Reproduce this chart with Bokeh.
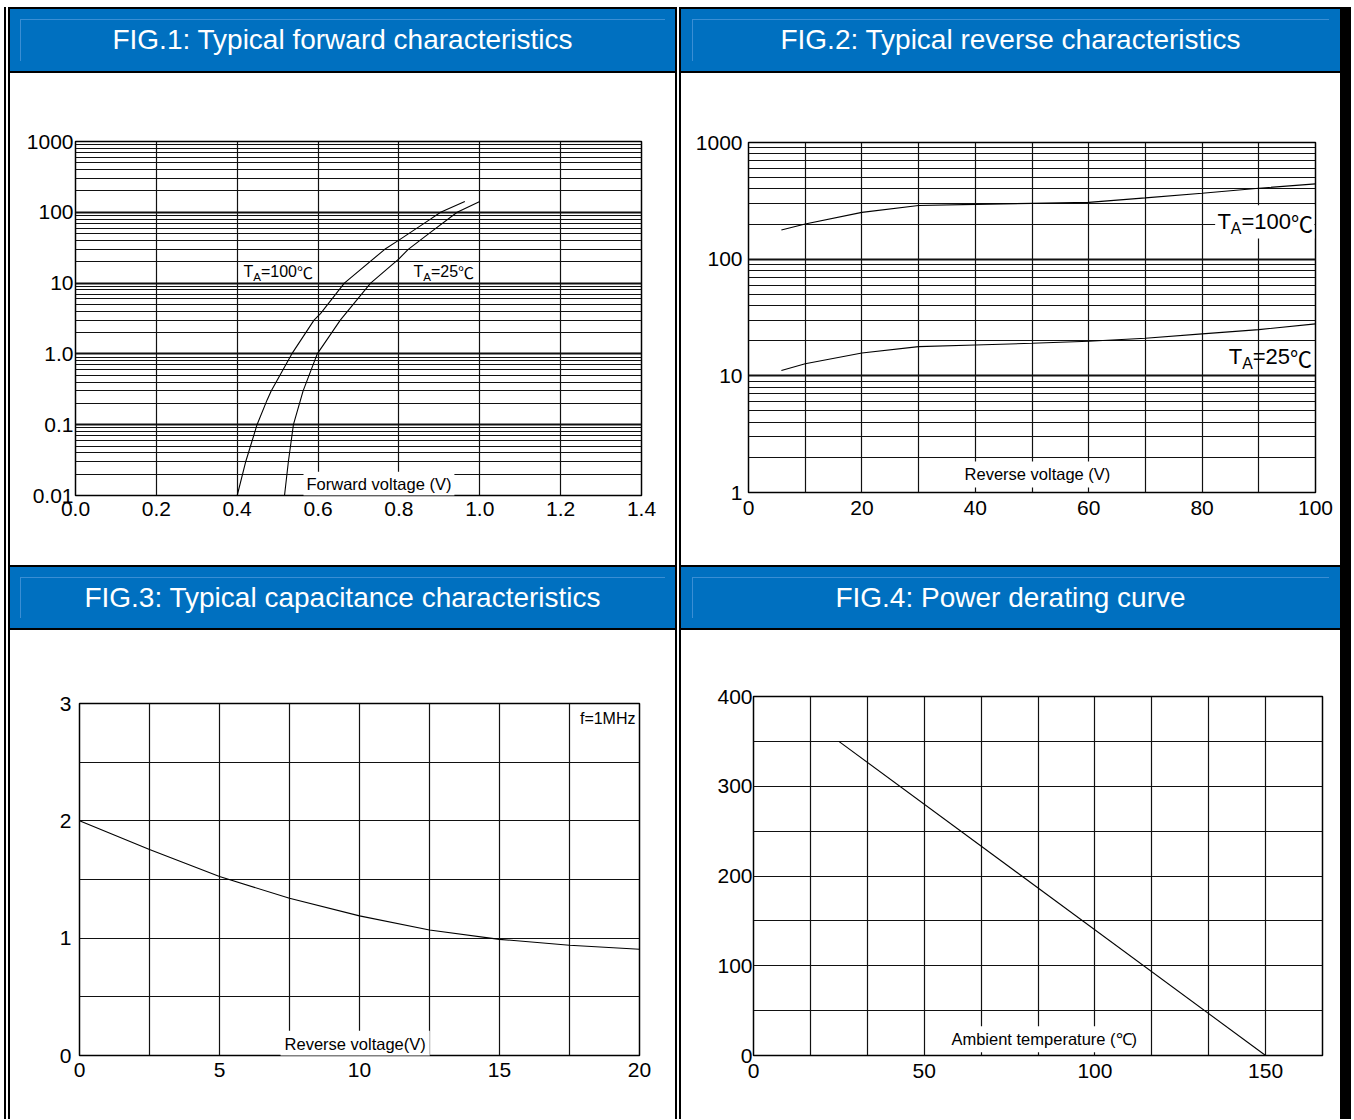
from bokeh.plotting import figure
from bokeh.layouts import row, column
from bokeh.models import Div, FixedTicker, Label, BoxAnnotation
from bokeh.embed import file_html
from bokeh.resources import INLINE

FONT = "Liberation Sans"
CJK = "Noto Sans CJK SC"
BLUE = "#0070c0"

# ---------------- data ----------------
titles = ["FIG.1: Typical forward characteristics",
          "FIG.2: Typical reverse characteristics",
          "FIG.3: Typical capacitance characteristics",
          "FIG.4: Power derating curve"]

# FIG.1 forward characteristics (V, mA)
vf_100 = [0.400, 0.421, 0.449, 0.474, 0.484, 0.535, 0.590, 0.606, 0.665, 0.765, 0.800, 0.878, 0.903, 0.963]
if_100 = [0.01, 0.03, 0.10, 0.224, 0.30, 1.0, 3.0, 3.7, 10.0, 30.0, 40.5, 80.0, 100.0, 142.0]
vf_25 = [0.517, 0.5265, 0.539, 0.563, 0.598, 0.655, 0.730, 0.800, 0.823, 0.878, 0.944, 1.000]
if_25 = [0.01, 0.03, 0.10, 0.30, 1.0, 3.0, 10.0, 22.0, 30.0, 52.0, 100.0, 142.0]
f1_xticks = [0, 0.2, 0.4, 0.6, 0.8, 1, 1.2, 1.4]
f1_xlabels = ["0.0", "0.2", "0.4", "0.6", "0.8", "1.0", "1.2", "1.4"]
f1_yticks = [0.01, 0.1, 1, 10, 100, 1000]
f1_ylabels = ["0.01", "0.1", "1.0", "10", "100", "1000"]

# FIG.2 reverse characteristics (V, nA)
vr = [5.8, 10, 20, 30, 40, 50, 60, 70, 80, 90, 100]
ir_100 = [178, 200, 252, 288, 295, 301, 307, 335, 367, 405, 442]
ir_25 = [11.1, 12.7, 15.7, 17.8, 18.4, 19.0, 19.8, 21.0, 22.9, 24.9, 27.9]
f2_xticks = [0, 20, 40, 60, 80, 100]
f2_xgrid = [0, 10, 20, 30, 40, 50, 60, 70, 80, 90, 100]
f2_yticks = [1, 10, 100, 1000]
f2_ylabels = ["1", "10", "100", "1000"]

# FIG.3 capacitance (V, pF)
vc = [0, 2.5, 5, 7.5, 10, 12.5, 15, 17.5, 20]
cap = [2.0, 1.756, 1.526, 1.34, 1.19, 1.07, 0.99, 0.94, 0.906]
f3_xticks = [0, 5, 10, 15, 20]
f3_xgrid = [0, 2.5, 5, 7.5, 10, 12.5, 15, 17.5, 20]
f3_yticks = [0, 1, 2, 3]
f3_ygrid = [0, 0.5, 1, 1.5, 2, 2.5, 3]

# FIG.4 power derating (degC, mW)
temp = [25, 150]
power = [350, 0]
f4_xticks = [0, 50, 100, 150]
f4_xgrid = [i * 50 / 3 for i in range(11)]
f4_yticks = [0, 100, 200, 300, 400]
f4_ygrid = [0, 50, 100, 150, 200, 250, 300, 350, 400]


def minor_decades(lo, hi):
    out = []
    d = lo
    while d < hi:
        out += [d * k for k in range(2, 10)]
        d *= 10
    return out


def base_fig(w, h, xr, yr, log, ml, mr, mt, mb):
    p = figure(width=w, height=h, x_range=xr, y_range=yr,
               y_axis_type="log" if log else "linear",
               output_backend="svg", toolbar_location=None,
               min_border_left=ml, min_border_right=mr,
               min_border_top=mt, min_border_bottom=mb)
    p.background_fill_color = "white"
    p.border_fill_color = "white"
    p.outline_line_color = "black"
    p.outline_line_width = 1.5
    for ax in (p.xaxis, p.yaxis):
        ax.axis_line_color = None
        ax.major_tick_line_color = None
        ax.minor_tick_line_color = None
        ax.major_tick_out = 0
        ax.major_tick_in = 0
        ax.minor_tick_out = 0
        ax.minor_tick_in = 0
        ax.major_label_text_font = FONT
        ax.major_label_text_font_size = "21px"
        ax.major_label_text_color = "black"
    p.xgrid.grid_line_color = "#111111"
    p.xgrid.grid_line_width = 1.2
    p.ygrid.grid_line_color = "#111111"
    p.ygrid.grid_line_width = 1.2
    return p


def lab(p, x, y, text, size, xo=0, yo=0, align="left", baseline="middle",
        bg=None, pad=0, font=FONT):
    l = Label(x=x, y=y, x_offset=xo, y_offset=yo, text=text,
              text_font=font, text_font_size=f"{size}px", text_align=align,
              text_baseline=baseline, text_color="black")
    if bg:
        l.background_fill_color = bg
        l.padding = pad
    p.add_layout(l)


def ta_label(p, x, y, val, size):
    lab(p, x, y, "T", size)
    sub = size * 0.72
    lab(p, x, y, "A", sub, xo=size * 0.611, yo=-size * 0.32)
    x2 = size * 0.611 + sub * 0.667
    lab(p, x, y, "=" + val, size, xo=x2)
    x3 = x2 + size * (0.584 + 0.556 * len(val))
    lab(p, x, y, "\u2103", size, xo=x3, font=CJK)


def log_yaxis(p, ticks, labels, standoff):
    p.yaxis.ticker = FixedTicker(ticks=ticks, minor_ticks=minor_decades(ticks[0], ticks[-1]))
    p.yaxis.major_label_overrides = dict(zip(ticks, labels))
    p.yaxis.major_label_standoff = standoff
    p.ygrid.grid_line_width = 2.2
    p.ygrid.minor_grid_line_color = "#111111"
    p.ygrid.minor_grid_line_width = 1


# ---------------- FIG.1 ----------------
p1 = base_fig(665, 492, (0, 1.4), (0.01, 1000), True, 65, 34, 68, 70)
p1.xaxis.ticker = FixedTicker(ticks=f1_xticks)
p1.xaxis.major_label_overrides = dict(zip(f1_xticks, f1_xlabels))
p1.xaxis.major_label_standoff = 6
log_yaxis(p1, f1_yticks, f1_ylabels, 2)
p1.line(vf_100, if_100, line_color="black", line_width=1.1)
p1.line(vf_25, if_25, line_color="black", line_width=1.1)
lab(p1, 0, 1000, "Instantaneous forward current (mA)", 16.5, xo=2, yo=16)
lab(p1, 0.564, 0.0146, "Forward voltage (V)", 16.5, bg="white", pad=3)
ta_label(p1, 0.4155, 14.4, "100", 16)
ta_label(p1, 0.836, 14.4, "25", 16)

# ---------------- FIG.2 ----------------
p2 = base_fig(659, 492, (0, 100), (1, 1000), True, 67, 25, 69, 73)
p2.xaxis.ticker = FixedTicker(ticks=f2_xticks)
p2.xgrid.ticker = FixedTicker(ticks=f2_xgrid)
p2.xaxis.major_label_standoff = 8
log_yaxis(p2, f2_yticks, f2_ylabels, 6)
p2.line(vr, ir_100, line_color="black", line_width=1.1)
p2.line(vr, ir_25, line_color="black", line_width=1.1)
lab(p2, 0, 1000, "Instantaneous reverse current", 16.5, xo=1, yo=14)
lab(p2, 0, 1000, "(nA)", 13, xo=229, yo=14)
lab(p2, 37.4, 1.43, "Reverse voltage (V)", 16.5, bg="white", pad=4)
p2.add_layout(BoxAnnotation(left=82.3, right=99.8, bottom=150, top=290,
                            fill_color="white", fill_alpha=1, line_color=None))
ta_label(p2, 82.7, 210, "100", 22)
ta_label(p2, 84.7, 14.6, "25", 22)

# ---------------- FIG.3 ----------------
p3 = base_fig(665, 489, (0, 20), (0, 3), False, 69, 36, 73, 64)
p3.xaxis.ticker = FixedTicker(ticks=f3_xticks)
p3.xgrid.ticker = FixedTicker(ticks=f3_xgrid)
p3.xaxis.major_label_standoff = 7
p3.yaxis.ticker = FixedTicker(ticks=f3_yticks)
p3.ygrid.ticker = FixedTicker(ticks=f3_ygrid)
p3.yaxis.major_label_standoff = 8
p3.line(vc, cap, line_color="black", line_width=1.1)
lab(p3, 0, 3, "Capacitance(pF)", 16.5, xo=1, yo=17)
lab(p3, 20, 3, "f=1MHz", 16, xo=-4, yo=-15, align="right")
lab(p3, 7.18, 0.1, "Reverse voltage(V)", 16.5, bg="white", pad=4)

# ---------------- FIG.4 ----------------
p4 = base_fig(659, 489, (0, 500 / 3), (0, 400), False, 72, 18, 66, 64)
p4.xaxis.ticker = FixedTicker(ticks=f4_xticks)
p4.xgrid.ticker = FixedTicker(ticks=f4_xgrid)
p4.xaxis.major_label_standoff = 8
p4.yaxis.ticker = FixedTicker(ticks=f4_yticks)
p4.ygrid.ticker = FixedTicker(ticks=f4_ygrid)
p4.yaxis.major_label_standoff = 1
p4.line(temp, power, line_color="black", line_width=1.1)
lab(p4, 0, 400, "Power dissipation (mW)", 16.5, xo=-3, yo=17)
lab(p4, 56.8, 18, "Ambient temperature (\u2103)", 16.5, bg="white", pad=4)


# ---------------- page layout ----------------
def blk(w, h, color="black"):
    return Div(text="", width=w, height=h, margin=(0, 0, 0, 0),
               styles={"background-color": color})


def header(text, w, h, inset):
    hl = "linear-gradient(#3a8ed4, #3a8ed4)"
    bg = (f"{hl} {inset}px 10px / {w - 2 * inset}px 1px no-repeat, "
          f"{hl} {inset}px 10px / 1px {h - 20}px no-repeat, {BLUE}")
    return Div(text=text, width=w, height=h, margin=(0, 0, 0, 0),
               styles={"background": bg, "color": "white",
                       "font-family": "Liberation Sans, Arial, sans-serif",
                       "font-size": "28px", "text-align": "center",
                       "line-height": f"{h}px", "white-space": "nowrap"})


def boxed(p):
    # own container so that frames are not aligned across the column
    p.margin = (0, 0, 0, 0)
    return row(p, spacing=0, margin=(0, 0, 0, 0))


H = 1112
left = column(blk(665, 2), header(titles[0], 665, 62, 10), blk(665, 2), boxed(p1),
              blk(665, 2), header(titles[2], 665, 61, 10), blk(665, 2), boxed(p3),
              spacing=0, margin=(0, 0, 0, 0))
right = column(blk(659, 2), header(titles[1], 659, 62, 11), blk(659, 2), boxed(p2),
               blk(659, 2), header(titles[3], 659, 61, 11), blk(659, 2), boxed(p4),
               spacing=0, margin=(0, 0, 0, 0))
body = row(blk(4, H, "white"), blk(2, H), blk(2, H, "white"), blk(2, H),
           left,
           blk(2, H), blk(2, H, "white"), blk(2, H),
           right,
           blk(11, H),
           spacing=0, margin=(0, 0, 0, 0))
page = column(blk(1351, 7, "white"), body, spacing=0, margin=(0, 0, 0, 0))

open("out.html", "w").write(file_html(page, INLINE))
